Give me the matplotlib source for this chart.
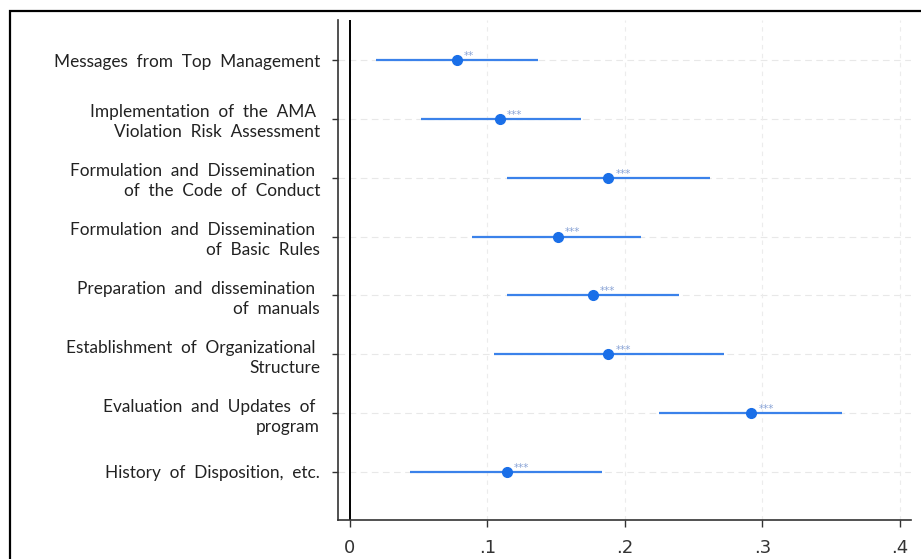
import matplotlib.pyplot as plt
from matplotlib.patches import Rectangle

labels = ["Messages  from  Top  Management",
          "Implementation  of  the  AMA \nViolation  Risk  Assessment",
          "Formulation  and  Dissemination \nof  the  Code  of  Conduct",
          "Formulation  and  Dissemination \nof  Basic  Rules",
          "Preparation  and  dissemination \nof  manuals",
          "Establishment  of  Organizational \nStructure",
          "Evaluation  and  Updates  of \nprogram",
          "History  of  Disposition,  etc."]
coef = [0.078, 0.109, 0.188, 0.151, 0.177, 0.188, 0.292, 0.114]
lo = [0.019, 0.052, 0.114, 0.089, 0.114, 0.105, 0.225, 0.044]
hi = [0.137, 0.168, 0.262, 0.212, 0.239, 0.272, 0.358, 0.183]
stars = ["**", "***", "***", "***", "***", "***", "***", "***"]
xticks = [0, 0.1, 0.2, 0.3, 0.4]
xticklabels = ["0", ".1", ".2", ".3", ".4"]

ypos = list(range(len(labels), 0, -1))

fig = plt.figure(figsize=(9.21, 5.59), dpi=100)
ax = fig.add_axes([338/921, 1-520/559, 573/921, 500/559])

# outer frame (cut off on right and bottom)
fig.add_artist(Rectangle((10/921, -0.5), 2, 1.5 - 11/559, transform=fig.transFigure,
                         fill=False, edgecolor="black", linewidth=1.6))

for y in ypos:
    ax.axhline(y, color="#e8e8e8", lw=0.8, ls=(0, (6, 4)), zorder=0)
for x in xticks:
    ax.axvline(x, color="#ececec", lw=0.8, ls=(0, (4, 4)), zorder=0)
ax.axvline(0, color="black", lw=1.4, zorder=1)

ax.hlines(ypos, lo, hi, color="#3b82ea", lw=1.6, zorder=2)
ax.plot(coef, ypos, "o", color="#1a6fe8", ms=7, zorder=3)
for c, y, s in zip(coef, ypos, stars):
    ax.text(c + 0.005, y + 0.07, s, fontsize=7.5, color="#8aa4d6", va="center", ha="left", zorder=4)

ax.set_xlim(-0.0087, 0.408)
ax.set_ylim(0.184, 8.68)
ax.set_yticks(ypos)
ax.set_yticklabels(labels, fontsize=12.4, family="Lato", ha="right", color="#222222",
                   linespacing=1.3)
ax.set_xticks(xticks)
ax.set_xticklabels(xticklabels, fontsize=13, family="Liberation Sans Narrow", color="#333333")
ax.tick_params(axis="y", length=4, width=1, color="#333333", pad=9)
ax.tick_params(axis="x", length=5, width=1, color="#333333", pad=9)
for sp in ["top", "right"]:
    ax.spines[sp].set_visible(False)
ax.spines["left"].set_color("#333333")
ax.spines["bottom"].set_color("#333333")
ax.spines["left"].set_linewidth(1.2)
ax.spines["bottom"].set_linewidth(1.2)

fig.savefig("out.png", dpi=100)
